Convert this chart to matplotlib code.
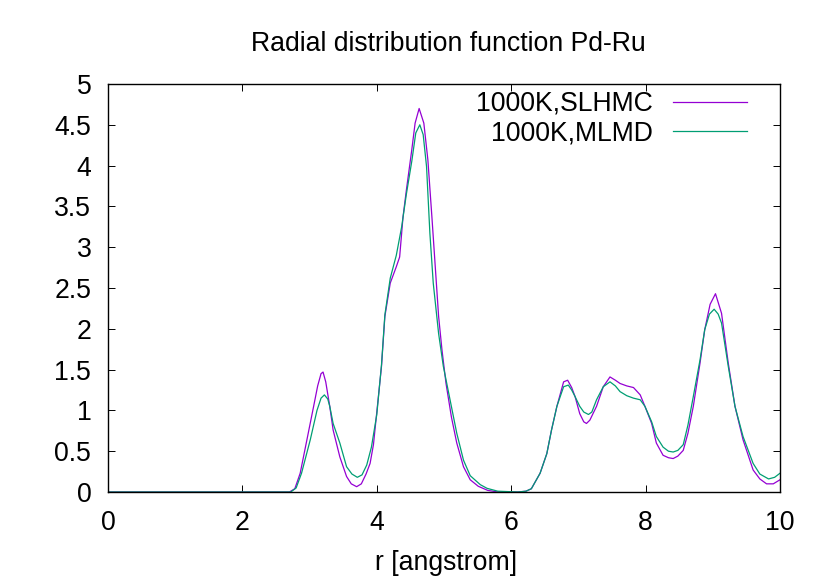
import matplotlib
matplotlib.use("Agg")
import matplotlib.pyplot as plt

# ---- data ----
r_slhmc = [0.0, 2.70, 2.78, 2.86, 2.96, 3.06, 3.12, 3.17, 3.20, 3.24, 3.30, 3.35,
           3.45, 3.55, 3.62, 3.70, 3.77, 3.84, 3.90, 3.95, 4.00, 4.07, 4.12, 4.20,
           4.29, 4.34, 4.39, 4.44, 4.52, 4.57, 4.63, 4.70, 4.76, 4.82, 4.87, 4.92,
           4.97, 5.03, 5.11, 5.19, 5.29, 5.39, 5.51, 5.65, 5.80, 6.10, 6.22, 6.30,
           6.43, 6.53, 6.60, 6.68, 6.78, 6.84, 6.90, 6.95, 7.02, 7.08, 7.12, 7.17,
           7.27, 7.37, 7.47, 7.55, 7.62, 7.72, 7.82, 7.92, 7.99, 8.09, 8.16, 8.26,
           8.34, 8.41, 8.48, 8.56, 8.63, 8.71, 8.81, 8.88, 8.96, 9.04, 9.13, 9.23,
           9.33, 9.45, 9.60, 9.70, 9.80, 9.90, 10.0]
g_slhmc = [0.0, 0.0, 0.04, 0.23, 0.64, 1.05, 1.30, 1.45, 1.47, 1.35, 1.05, 0.76,
           0.43, 0.19, 0.10, 0.065, 0.10, 0.22, 0.35, 0.58, 0.98, 1.54, 2.15, 2.56,
           2.76, 2.88, 3.37, 3.70, 4.19, 4.52, 4.70, 4.52, 4.07, 3.37, 2.76, 2.15,
           1.74, 1.33, 0.92, 0.60, 0.31, 0.15, 0.07, 0.02, 0.0, 0.0, 0.01, 0.04,
           0.23, 0.47, 0.76, 1.05, 1.35, 1.37, 1.28, 1.17, 0.96, 0.86, 0.84, 0.88,
           1.05, 1.29, 1.41, 1.37, 1.33, 1.30, 1.28, 1.19, 1.05, 0.84, 0.60, 0.45,
           0.42, 0.41, 0.44, 0.51, 0.72, 1.05, 1.58, 1.99, 2.30, 2.43, 2.19, 1.58,
           1.05, 0.64, 0.27, 0.16, 0.10, 0.10, 0.15]

r_mlmd = [0.0, 2.72, 2.80, 2.88, 3.01, 3.11, 3.17, 3.22, 3.27, 3.30, 3.35, 3.45,
          3.55, 3.63, 3.71, 3.78, 3.85, 3.92, 4.00, 4.07, 4.12, 4.20, 4.29, 4.37,
          4.44, 4.52, 4.58, 4.64, 4.69, 4.74, 4.79, 4.84, 4.92, 4.99, 5.09, 5.19,
          5.29, 5.39, 5.54, 5.64, 5.80, 6.10, 6.22, 6.30, 6.43, 6.53, 6.60, 6.68,
          6.78, 6.85, 6.90, 6.95, 7.02, 7.08, 7.15, 7.20, 7.27, 7.37, 7.47, 7.55,
          7.62, 7.72, 7.82, 7.92, 7.99, 8.09, 8.16, 8.26, 8.34, 8.41, 8.48, 8.56,
          8.63, 8.71, 8.81, 8.88, 8.95, 9.02, 9.08, 9.13, 9.23, 9.33, 9.45, 9.60,
          9.70, 9.83, 9.92, 10.0]
g_mlmd = [0.0, 0.0, 0.05, 0.23, 0.64, 1.00, 1.15, 1.19, 1.14, 1.05, 0.84, 0.60,
          0.31, 0.22, 0.18, 0.21, 0.33, 0.55, 0.95, 1.56, 2.17, 2.62, 2.90, 3.25,
          3.65, 4.05, 4.40, 4.50, 4.38, 3.99, 3.17, 2.56, 1.94, 1.54, 1.13, 0.72,
          0.39, 0.20, 0.09, 0.045, 0.01, 0.0, 0.01, 0.04, 0.23, 0.47, 0.76, 1.05,
          1.29, 1.31, 1.25, 1.17, 1.05, 0.98, 0.95, 0.98, 1.13, 1.29, 1.35, 1.30,
          1.23, 1.18, 1.15, 1.13, 1.05, 0.86, 0.68, 0.55, 0.50, 0.49, 0.51, 0.58,
          0.82, 1.17, 1.62, 1.99, 2.18, 2.24, 2.18, 2.07, 1.54, 1.05, 0.68, 0.35,
          0.22, 0.16, 0.18, 0.23]

labels = ["1000K,SLHMC", "1000K,MLMD"]
colors = ["#9400D3", "#009E73"]
x_ticks = [0, 2, 4, 6, 8, 10]
y_ticks = [0, 0.5, 1, 1.5, 2, 2.5, 3, 3.5, 4, 4.5, 5]
y_ticklabels = ["0", "0.5", "1", "1.5", "2", "2.5", "3", "3.5", "4", "4.5", "5"]
title = "Radial distribution function Pd-Ru"
xlabel = "r [angstrom]"

# ---- figure ----
plt.rcParams["font.family"] = ["Liberation Sans", "DejaVu Sans"]
FS = 19.2
W, H = 830, 581
fig = plt.figure(figsize=(W / 100, H / 100), dpi=100)
ax = fig.add_axes([108 / W, (H - 492) / H, (780 - 108) / W, (492 - 84) / H])

ax.plot(r_slhmc, g_slhmc, color=colors[0], lw=0.9, label=labels[0])
ax.plot(r_mlmd, g_mlmd, color=colors[1], lw=0.9, label=labels[1])

ax.set_xlim(0, 10)
ax.set_ylim(0, 5)
ax.set_xticks(x_ticks)
ax.set_xticklabels([str(t) for t in x_ticks])
ax.set_yticks(y_ticks)
ax.set_yticklabels(y_ticklabels)
ax.tick_params(axis="both", direction="in", length=5, width=0.7, labelsize=FS,
               top=True, right=True, colors="black")
ax.tick_params(axis="y", pad=12)
ax.tick_params(axis="x", pad=13)
for s in ax.spines.values():
    s.set_linewidth(1.0)
    s.set_color("black")

fig.text(448 / W, (H - 51) / H, title, ha="center", va="baseline", fontsize=FS)
fig.text(446 / W, (H - 570) / H, xlabel, ha="center", va="baseline", fontsize=FS)

leg = ax.legend(loc="upper right", bbox_to_anchor=(747 / W, (H - 91) / H),
                bbox_transform=fig.transFigure, frameon=False, markerfirst=False,
                fontsize=FS, handlelength=2.78, handletextpad=0.75,
                labelspacing=0.13, borderpad=0, borderaxespad=0)

fig.savefig("out.png", dpi=100)
